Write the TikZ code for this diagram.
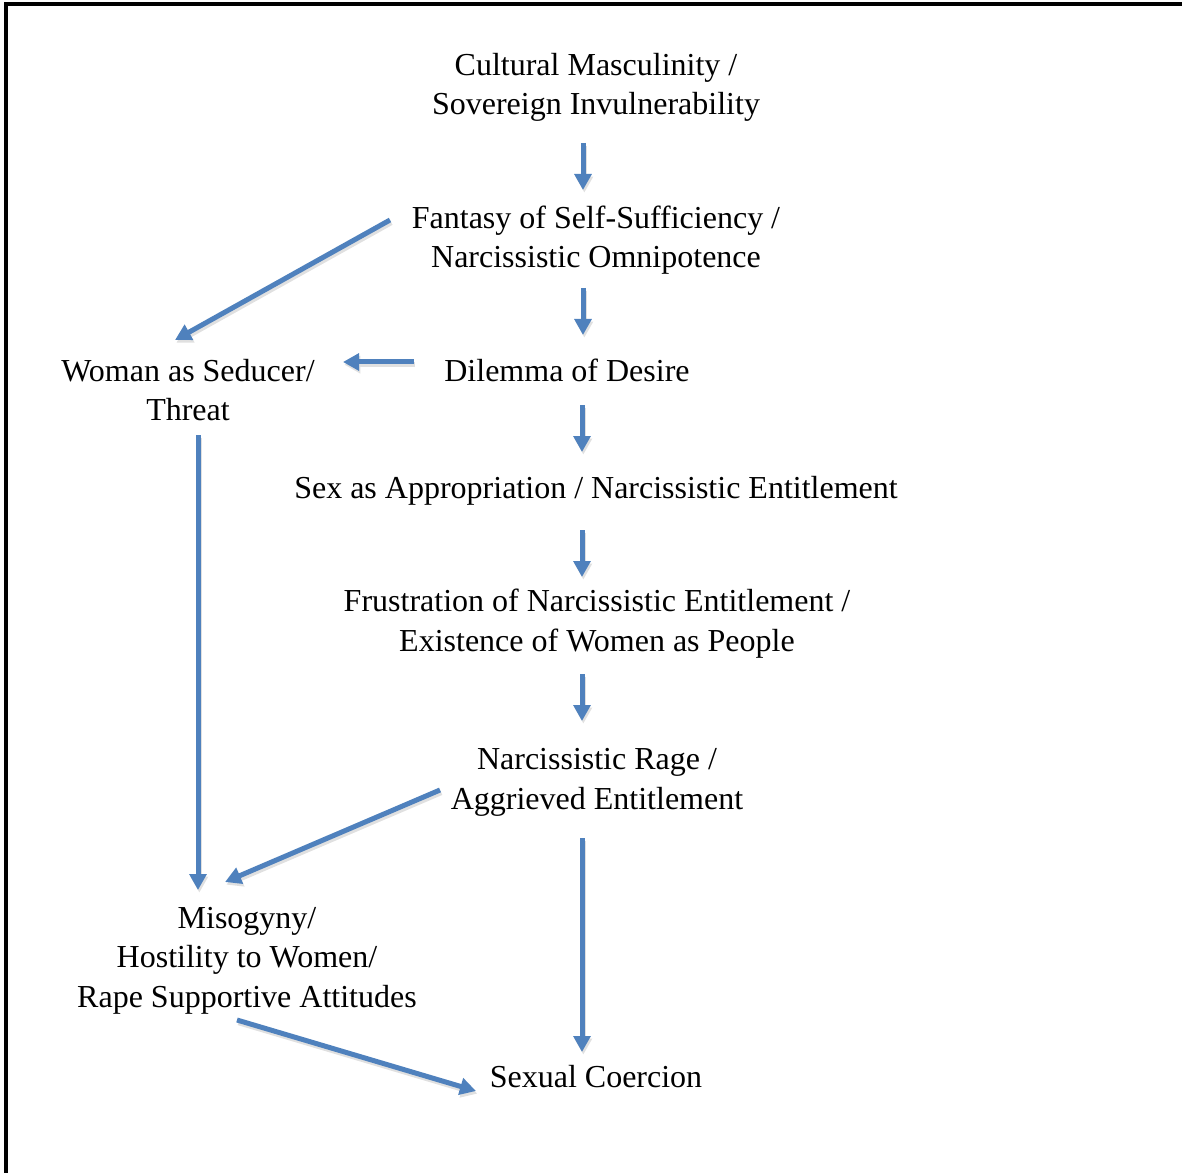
\documentclass[tikz,border=0pt]{standalone}
\usepackage{fontspec}
\setmainfont{Liberation Serif}
\usetikzlibrary{arrows.meta}
\definecolor{arrowblue}{HTML}{4F81BD}
\tikzset{
  txt/.style={align=center, inner sep=0pt, anchor=base, font=\fontsize{24pt}{29.3pt}\selectfont},
  arr/.style={draw=arrowblue, line width=3.75pt, -{Triangle[length=12pt,width=12.5pt]}},
  arrsh/.style={draw=black!12, line width=3.75pt, -{Triangle[length=12pt,width=12.5pt]}, transform canvas={shift={(1pt,-2pt)}}},
  frame/.style={draw=black, line width=2.4pt}
}
\newcommand\conn[2]{\draw[arrsh] (#1) -- (#2); \draw[arr] (#1) -- (#2);}
\begin{document}
\begin{tikzpicture}[x=0.75pt, y=-0.75pt]
\useasboundingbox (0,0) rectangle (1182,1173);
\coordinate (fl) at (6,1173);
\coordinate (fc) at (6,4);
\coordinate (fr) at (1182,4);
\draw[frame] (fl) -- (fc) -- (fr);

% base anchor = baseline of the last line
\node[txt] (A) at (596,115) {Cultural Masculinity /\\Sovereign Invulnerability};
\node[txt] (B) at (596,268) {Fantasy of Self-Sufficiency /\\Narcissistic Omnipotence};
\node[txt] (C) at (188,421) {Woman as Seducer/\\Threat};
\node[txt] (D) at (567,382) {Dilemma of Desire};
\node[txt] (E) at (596,498) {Sex as Appropriation / Narcissistic Entitlement};
\node[txt] (F) at (597,651) {Frustration of Narcissistic Entitlement /\\Existence of Women as People};
\node[txt] (G) at (597,809) {Narcissistic Rage /\\Aggrieved Entitlement};
\node[txt] (H) at (247,1007) {Misogyny/\\Hostility to Women/\\Rape Supportive Attitudes};
\node[txt] (I) at (596,1087) {Sexual Coercion};

\coordinate (ab1) at (583,143); \coordinate (ab2) at (583,190);
\coordinate (bc1) at (390,220); \coordinate (bc2) at (175,340);
\coordinate (bd1) at (583,288); \coordinate (bd2) at (583,335);
\coordinate (dc1) at (414,362); \coordinate (dc2) at (343,362);
\coordinate (de1) at (582,405); \coordinate (de2) at (582,452);
\coordinate (ef1) at (582,530); \coordinate (ef2) at (582,577);
\coordinate (fg1) at (582,674); \coordinate (fg2) at (582,721);
\coordinate (ch1) at (198,435); \coordinate (ch2) at (198,890);
\coordinate (gh1) at (440,790); \coordinate (gh2) at (225,882);
\coordinate (gi1) at (582,838); \coordinate (gi2) at (582,1052);
\coordinate (hi1) at (237,1020); \coordinate (hi2) at (476,1091);

\conn{ab1}{ab2}
\conn{bc1}{bc2}
\conn{bd1}{bd2}
\conn{dc1}{dc2}
\conn{de1}{de2}
\conn{ef1}{ef2}
\conn{fg1}{fg2}
\conn{ch1}{ch2}
\conn{gh1}{gh2}
\conn{gi1}{gi2}
\conn{hi1}{hi2}
\end{tikzpicture}
\end{document}
